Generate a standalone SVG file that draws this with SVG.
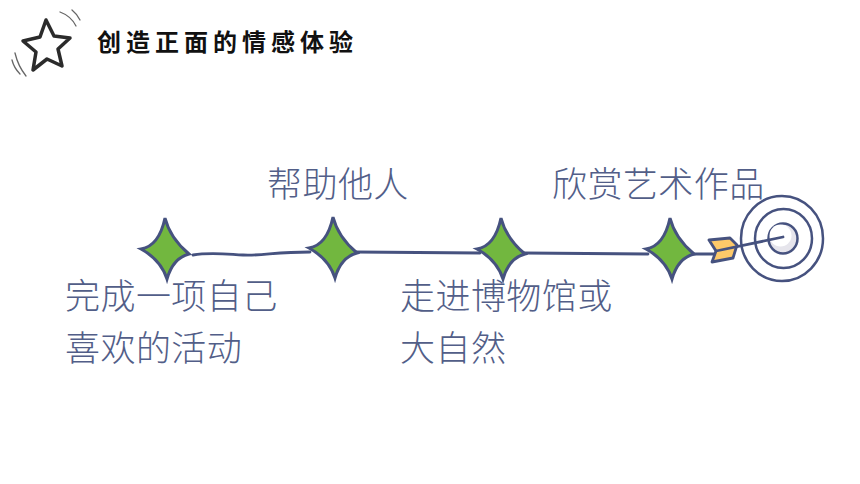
<svg xmlns="http://www.w3.org/2000/svg" width="860" height="484" viewBox="0 0 860 484">
<style>
.lab{font-family:"Noto Sans CJK SC","Noto Sans",sans-serif;font-size:35px;font-weight:300;fill:#525e88;letter-spacing:.45px}
.title{font-family:"Noto Sans CJK SC","Noto Sans",sans-serif;font-size:24px;font-weight:700;fill:#111;letter-spacing:5px}
.ln{fill:none;stroke:#46527f;stroke-width:2.800;stroke-linecap:round;stroke-linejoin:round}
.dia{fill:#72b73f;stroke:#46527f;stroke-width:3;stroke-linejoin:miter}
.sw{fill:none;stroke:#666;stroke-width:1.300;stroke-linecap:round}
.ring{fill:#fff;stroke:#46527f;stroke-width:2.500}
</style>
<defs>
<path id="d" d="M0 -31Q5 -11 24 5Q8 9 2 30Q-4 11 -24 0Q-6 -3 0 -31Z"/>
</defs>
<g id="star">
<path d="M46 20L54 36L70 38L58 49L62 66L47 59L33 70L36 52L23 41L40 37Z" fill="#fff" stroke="#2b2b2b" stroke-width="3.500" stroke-linejoin="round"/>
<path class="sw" d="M60 12Q71 16 76 26M72 10Q77 14 80 20M12 60Q14 68 20 74M15 53Q18 66 26 76"/>
</g>
<g id="title"><text class="title" x="97" y="51">创造正面的情感体验</text></g>
<g id="connectors">
<path class="ln" d="M193 255C210 252 225 254 243 255C262 256 275 252 310 252"/>
<path class="ln" d="M355 252L480 253"/>
<path class="ln" d="M524 253L648 254"/>
<path class="ln" d="M690 254L714 254"/>
</g>
<g id="node1"><use href="#d" x="165" y="249" class="dia"/></g>
<g id="node2"><use href="#d" x="333" y="248" class="dia"/></g>
<g id="node3"><use href="#d" x="501" y="249" class="dia"/></g>
<g id="node4"><use href="#d" x="670" y="249" class="dia"/></g>
<g id="target">
<ellipse class="ring" cx="782" cy="238.500" rx="41" ry="42.500"/>
<ellipse class="ring" cx="783.500" cy="238.500" rx="28.500" ry="29.500"/>
<ellipse class="ring" cx="783" cy="238.500" rx="14.500" ry="15" style="fill:#e6e5ec"/>
<circle cx="780.500" cy="235.500" r="11" fill="#fff"/>
<path d="M709 240L730 238L737 245L733 258L712 262L716 251Z" fill="#fdc969" stroke="#46527f" stroke-width="2.800" stroke-linejoin="round"/>
<path class="ln" d="M716 251L783 237"/>
</g>
<g id="labels">
<text class="lab" x="267" y="197">帮助他人</text>
<text class="lab" x="552" y="197">欣赏艺术作品</text>
<text class="lab" x="65" y="309">完成一项自己</text>
<text class="lab" x="65" y="361">喜欢的活动</text>
<text class="lab" x="400" y="309">走进博物馆或</text>
<text class="lab" x="400" y="361">大自然</text>
</g>
</svg>
